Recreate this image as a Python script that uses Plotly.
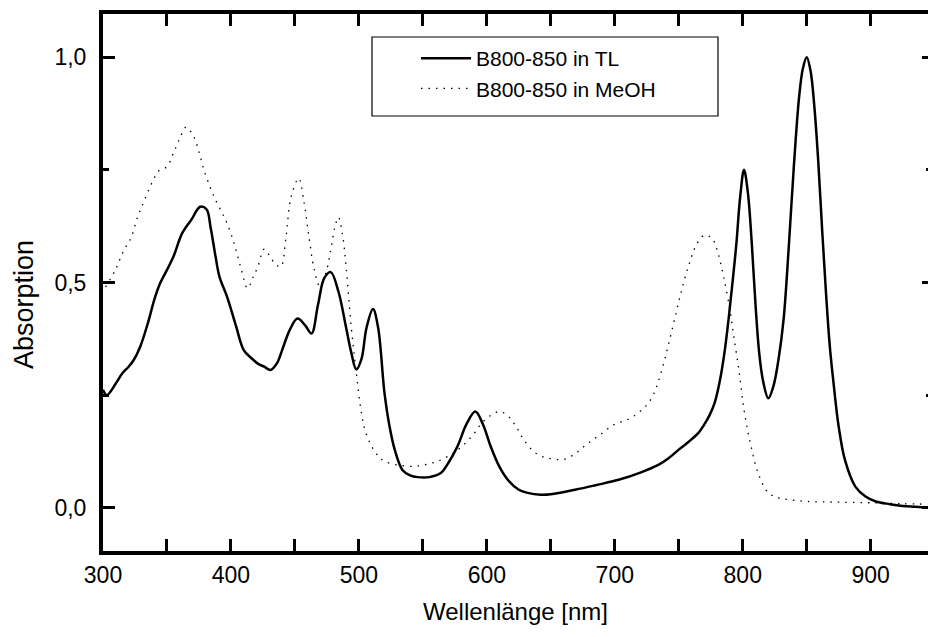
import plotly.graph_objects as go

# --- data ---
wl_tl = [300, 303, 310, 315, 320, 324, 329, 335, 340, 344, 350, 355, 362, 369, 376, 381, 384, 388, 391,
         397, 404, 410, 416, 421, 426, 431, 436, 440, 446, 452, 458, 463, 468, 473, 478, 484, 490, 494,
         498, 502, 506, 511, 515, 520, 524, 528, 534, 540, 546, 555, 564, 570, 577, 584, 591, 597, 603,
         610, 617, 625, 632, 642, 650, 669, 685, 703, 720, 734, 742, 750, 758, 765, 770, 774, 778, 782,
         786, 789, 792, 795, 798, 801, 804, 807, 810, 813, 816, 820, 824, 828, 832, 836, 840, 844, 847,
         850, 853, 856, 859, 862, 865, 868, 871, 875, 880, 888, 896, 904, 915, 925, 935, 945]
abs_tl = [0.262, 0.250, 0.276, 0.298, 0.313, 0.328, 0.357, 0.409, 0.461, 0.494, 0.528, 0.557, 0.610,
          0.639, 0.668, 0.662, 0.624, 0.557, 0.513, 0.468, 0.403, 0.350, 0.332, 0.320, 0.313, 0.306,
          0.321, 0.350, 0.395, 0.420, 0.405, 0.387, 0.450, 0.510, 0.523, 0.480, 0.400, 0.345, 0.307,
          0.330, 0.400, 0.441, 0.400, 0.255, 0.180, 0.129, 0.084, 0.072, 0.068, 0.068, 0.077, 0.100,
          0.136, 0.185, 0.2135, 0.185, 0.136, 0.090, 0.060, 0.040, 0.033, 0.029, 0.030, 0.040, 0.050,
          0.062, 0.078, 0.095, 0.110, 0.129, 0.147, 0.165, 0.185, 0.205, 0.232, 0.280, 0.350, 0.420,
          0.500, 0.585, 0.690, 0.750, 0.700, 0.590, 0.450, 0.340, 0.280, 0.243, 0.270, 0.330, 0.420,
          0.580, 0.760, 0.910, 0.975, 1.000, 0.970, 0.890, 0.770, 0.620, 0.480, 0.360, 0.276, 0.180,
          0.105, 0.047, 0.025, 0.014, 0.008, 0.004, 0.002, 0.000]

wl_meoh = [302, 310, 316, 322, 327, 332, 338, 344, 350, 355, 360, 365, 371, 375, 379, 384, 388, 393,
           397, 401, 404, 408, 413, 417, 421, 426, 430, 435, 439, 443, 447, 453, 457, 461, 465, 469,
           474, 478, 481, 484, 487, 490, 494, 498, 502, 505, 510, 515, 520, 530, 543, 554, 564, 573,
           582, 590, 596, 603, 610, 616, 622, 628, 635, 642, 648, 655, 661, 670, 679, 689, 699, 711,
           718, 725, 730, 734, 740, 746, 752, 758, 764, 770, 776, 780, 785, 790, 793, 797, 801, 806,
           812, 820, 828, 836, 850, 872, 900, 925, 945]
abs_meoh = [0.490, 0.530, 0.570, 0.600, 0.645, 0.680, 0.720, 0.749, 0.757, 0.787, 0.820, 0.845, 0.823,
            0.790, 0.749, 0.710, 0.683, 0.655, 0.631, 0.600, 0.572, 0.530, 0.487, 0.510, 0.535, 0.574,
            0.560, 0.540, 0.535, 0.600, 0.690, 0.731, 0.680, 0.600, 0.530, 0.494, 0.520, 0.572, 0.620,
            0.645, 0.610, 0.535, 0.402, 0.299, 0.210, 0.170, 0.136, 0.115, 0.103, 0.095, 0.092, 0.097,
            0.106, 0.120, 0.140, 0.165, 0.188, 0.205, 0.2135, 0.205, 0.184, 0.155, 0.129, 0.115, 0.110,
            0.107, 0.108, 0.122, 0.143, 0.163, 0.184, 0.197, 0.210, 0.228, 0.250, 0.280, 0.340, 0.410,
            0.480, 0.540, 0.585, 0.605, 0.598, 0.572, 0.513, 0.439, 0.380, 0.306, 0.217, 0.143, 0.077,
            0.033, 0.022, 0.018, 0.014, 0.0126, 0.011, 0.009, 0.008]

name_tl = "B800-850 in TL"
name_meoh = "B800-850 in MeOH"
x_title = "Wellenlänge [nm]"
y_title = "Absorption"
x_range = [300, 944.8]
y_range = [-0.096, 1.096]

FONT = "Arial, 'Liberation Sans', Helvetica, sans-serif"

fig = go.Figure()
fig.add_trace(go.Scatter(x=wl_tl, y=abs_tl, mode="lines", name=name_tl,
                         line=dict(color="black", width=2.5, shape="spline", smoothing=1.0)))
fig.add_trace(go.Scatter(x=wl_meoh, y=abs_meoh, mode="lines", name=name_meoh,
                         line=dict(color="black", width=1.3, dash="1.5px,6px",
                                   shape="spline", smoothing=1.0)))

fig.update_layout(
    width=928, height=637,
    margin=dict(l=103, r=0, t=14, b=86),
    paper_bgcolor="white", plot_bgcolor="white",
    separators=",.",
    font=dict(family=FONT, color="black"),
    showlegend=True,
    legend=dict(x=(416 - 103) / 825, y=(551 - 38) / 537, xanchor="left", yanchor="top",
                bgcolor="rgba(0,0,0,0)", borderwidth=0, itemwidth=50,
                font=dict(size=21, family=FONT), tracegroupgap=0),
    shapes=[dict(type="rect", xref="paper", yref="paper",
                 x0=(372 - 103) / 825, x1=(718 - 103) / 825,
                 y0=(551 - 116) / 537, y1=(551 - 37) / 537,
                 line=dict(color="black", width=1.2), fillcolor="rgba(0,0,0,0)", layer="above")],
    annotations=[dict(text=y_title, textangle=-90, xref="paper", yref="paper",
                      x=(24 - 103) / 825, y=(551 - 305) / 537, xanchor="center", yanchor="middle",
                      showarrow=False, font=dict(size=27, family=FONT, color="black"))],
)

fig.update_xaxes(
    range=x_range, showgrid=False, zeroline=False,
    showline=True, linecolor="black", linewidth=4, mirror="allticks",
    ticks="inside", ticklen=12, tickwidth=3, tickcolor="black",
    tick0=300, dtick=100,
    minor=dict(ticks="inside", ticklen=6, tickwidth=3, tickcolor="black", dtick=50, showgrid=False),
    tickfont=dict(size=23, family=FONT),
    title=dict(text=x_title, font=dict(size=24, family=FONT), standoff=18),
)
fig.update_yaxes(
    range=y_range, showgrid=False, zeroline=False,
    showline=True, linecolor="black", linewidth=4, mirror=False,
    ticks="inside", ticklen=12, tickwidth=3, tickcolor="black",
    tick0=0, dtick=0.5, tickformat=".1f",
    minor=dict(ticks="inside", ticklen=6, tickwidth=3, tickcolor="black", dtick=0.25, showgrid=False),
    tickfont=dict(size=23, family=FONT), ticklabelstandoff=8,
)
# right-hand inward ticks (the right frame line lies just beyond the picture edge)
fig.update_layout(yaxis2=dict(
    overlaying="y", side="right", range=y_range, showgrid=False, zeroline=False,
    showline=False, showticklabels=False,
    ticks="inside", ticklen=6, tickwidth=3, tickcolor="black", tick0=0, dtick=0.5,
    minor=dict(ticks="inside", ticklen=2, tickwidth=3, tickcolor="black", dtick=0.25),
))
fig.add_trace(go.Scatter(x=[None], y=[None], yaxis="y2", showlegend=False, hoverinfo="skip"))

fig.write_html("out.html", config={"displayModeBar": False})
